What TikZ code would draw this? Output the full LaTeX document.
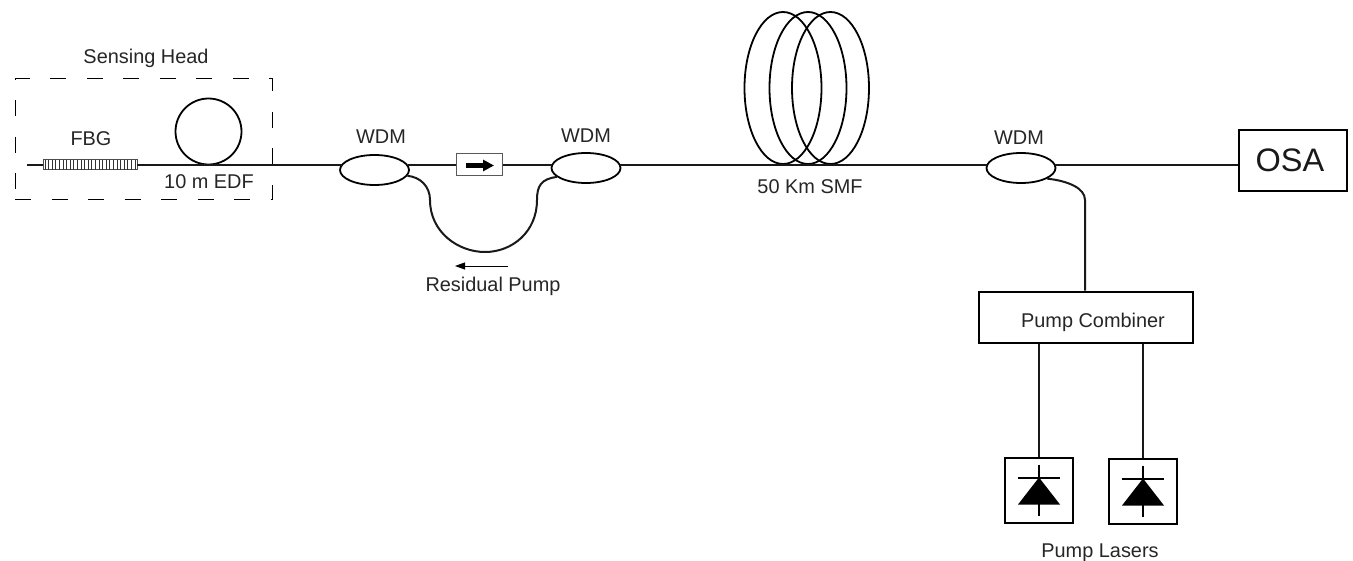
\documentclass[tikz,border=0pt]{standalone}
\usepackage{fontspec}
\setmainfont{Liberation Sans}
\usetikzlibrary{shapes.geometric,arrows.meta}
\tikzset{
	fibre/.style={line width=2pt,black!90},
	wdm/.style={draw,ellipse,line width=1.8pt,inner sep=0pt,minimum width=69pt,minimum height=30pt},
	coil/.style={draw,ellipse,line width=1.8pt,inner sep=0pt,minimum width=77pt,minimum height=152pt},
	unit/.style={draw,line width=2pt,inner sep=0pt},
	lbl/.style={inner sep=0pt,black!85,font=\fontsize{19.9}{22}\selectfont},
	diode/.pic={
		\fill (-21,14) -- (0,-13) -- (21,14) -- cycle;
		\draw[line width=2pt] (-21,-13) -- (21,-13);
		\draw[line width=1.9pt] (0,-26) -- (0,25);
	}
}
\begin{document}
\begin{tikzpicture}[x=1pt,y=-1pt,line cap=butt,line join=miter]
	\useasboundingbox (0,0) rectangle (1353,560);
	% sensing head
	\node[draw,line width=0.9pt,dash pattern=on 16pt off 20.5pt,inner sep=0pt,minimum width=257pt,minimum height=121pt] (head) at (143.5,138.5) {};
	\node[lbl] (headlbl) at (146,58) {Sensing Head};
	\coordinate (fibstart) at (27,164.5);
	\node[draw=black!70,line width=0.8pt,inner sep=0pt,minimum width=94pt,minimum height=10pt] (fbg) at (90,164.5) {};
	\foreach \x in {0,...,25}{\draw[line width=0.9pt,black!80] (45+\x*3.6,159.5) -- (45+\x*3.6,169.5);}
	\node[lbl] (fbglbl) at (91,139) {FBG};
	\node[draw,circle,line width=1.8pt,inner sep=0pt,minimum size=66pt] (edf) at (208.5,131.5) {};
	\node[lbl] (edflbl) at (209,182) {10 m EDF};
	% couplers
	\node[wdm] (wdmA) at (374.5,170) {};
	\node[wdm] (wdmB) at (586,168) {};
	\node[wdm] (wdmC) at (1021,168) {};
	\node[lbl] (wdmAlbl) at (381,137) {WDM};
	\node[lbl] (wdmBlbl) at (586,136) {WDM};
	\node[lbl] (wdmClbl) at (1019,138) {WDM};
	% isolator
	\node[draw=black!65,line width=0.9pt,inner sep=0pt,minimum width=45.5pt,minimum height=22.5pt] (iso) at (479.5,164.5) {};
	\draw[line width=5pt,-{Triangle[length=11pt,width=11pt]}] (466,165.5) -- (494,165.5);
	% 50 km spool
	\foreach \i/\x in {1/783,2/808,3/830.5}{\node[coil] (coil\i) at (\x,88) {};}
	\node[lbl] (smflbl) at (810,187) {50 Km SMF};
	% osa and pumps
	\node[unit,minimum width=108pt,minimum height=60.5pt] (osa) at (1293,160.5) {};
	\node[inner sep=0pt,black!90,font=\fontsize{32.5}{36}\selectfont] (osalbl) at (1290,160) {OSA};
	\node[unit,minimum width=214pt,minimum height=51pt] (comb) at (1086,317) {};
	\node[lbl] (comblbl) at (1093,322) {Pump Combiner};
	\node[unit,minimum width=68.5pt,minimum height=65pt] (ldA) at (1039,490.5) {};
	\node[unit,minimum width=68.5pt,minimum height=65pt] (ldB) at (1143,491.5) {};
	\pic at (ldA) {diode};
	\pic at (ldB) {diode};
	\node[lbl] (ldlbl) at (1100,553) {Pump Lasers};
	% fibres
	\draw[fibre] (fibstart) -- (fbg.west);
	\draw[fibre] (fbg.east) -- (fbg.east -| wdmA.170);
	\draw[fibre] (wdmA.9.7 |- iso.west) -- (iso.west);
	\draw[fibre] (iso.east) -- (iso.east -| wdmB.172);
	\draw[fibre] (iso.east -| wdmB.8) -- (iso.east -| wdmC.172);
	\draw[fibre] (osa.west |- iso.east) -- (iso.east -| wdmC.8);
	\draw[fibre] (wdmA.-10.5) .. controls (420,177) and (430,186) .. (430,200)
		.. controls (430,232) and (458,252) .. (485,252)
		.. controls (512,252) and (537,232) .. (537,200)
		.. controls (537,186) and (541,179) .. (wdmB.-163);
	\draw[fibre] (wdmC.-22) .. controls (1068,181) and (1085,188) .. (1085,200) -- (comb.north -| 1085,0);
	\draw[fibre] (comb.south -| ldA) -- (ldA.north);
	\draw[fibre] (comb.south -| ldB) -- (ldB.north);
	\coordinate (pumpR) at (508,266);
	\coordinate (pumpL) at (455,266);
	\draw[line width=0.9pt,-{Triangle[length=10pt,width=7pt]}] (pumpR) -- (pumpL);
	\node[lbl] (pumplbl) at (493,286) {Residual Pump};
\end{tikzpicture}
\end{document}
